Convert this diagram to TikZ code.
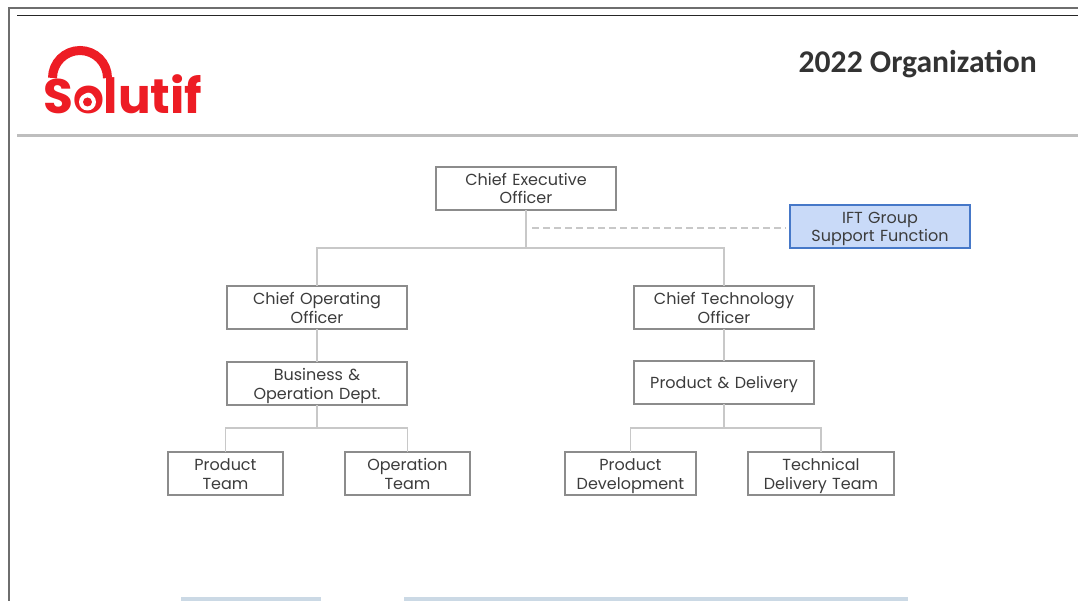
\documentclass[tikz,border=0pt]{standalone}
\usepackage{fontspec}
\setmainfont{Poppins}
\newfontfamily\titlefont{Carlito}
\usetikzlibrary{positioning}
\definecolor{boxgray}{RGB}{140,140,140}
\definecolor{linkgray}{RGB}{200,200,200}
\definecolor{framegray}{RGB}{110,110,110}
\definecolor{rulegray}{RGB}{190,190,190}
\definecolor{textgray}{RGB}{60,60,60}
\definecolor{supportblue}{RGB}{201,218,248}
\definecolor{supportedge}{RGB}{70,120,200}
\definecolor{stripblue}{RGB}{203,217,229}
\definecolor{logored}{RGB}{237,28,36}
\tikzset{
	orgbox/.style={draw=boxgray, line width=1.2pt, fill=white, text=textgray, inner sep=0pt, outer sep=0pt, align=center, text width=#1, minimum height=43pt, font=\fontsize{16}{18.6}\selectfont, execute at begin node={\rule{0pt}{18pt}}, execute at end node={\rule[-5.6pt]{0pt}{5.6pt}}},
	orgbox/.default=180pt,
	link/.style={draw=linkgray, line width=1.6pt},
}

\begin{document}
\begin{tikzpicture}[x=1pt, y=-1pt]
		\useasboundingbox (0,0) rectangle (1078,601);
		% page frame and header
		\draw[framegray, line width=1.6pt] (9,601) -- (9,8) -- (1078,8);
		\draw[black!85, line width=1pt] (17,16) -- (1078,16);
		\draw[rulegray, line width=3pt] (17,135.5) -- (1078,135.5);
		\fill[stripblue] (181,597) rectangle (321,601);
		\fill[stripblue] (404,597) rectangle (908,601);
		\node[text=black!80, font=\titlefont\fontsize{31.6}{34}\selectfont\bfseries, anchor=east, inner sep=0pt] (title) at (1037,64) {2022 Organization};
		% logo
		\draw[logored, line width=9pt] (52.5,78) arc[start angle=180, end angle=360, radius=27.5];
		\node[text=logored, font=\fontsize{48.5}{48}\selectfont\bfseries, anchor=base west, inner sep=0pt] (logo) at (43,114) {Solutif};
		\fill[white] (87.5,102) circle[radius=8.5];
		\fill[logored] (87.5,102) circle[radius=4.5];
		% boxes
		\node[orgbox] (ceo) at (526,188.5) {Chief Executive\\Officer};
		\node[orgbox, fill=supportblue, draw=supportedge] (ift) at (880,226.5) {IFT Group\\Support Function};
		\node[orgbox] (coo) at (317,307.5) {Chief Operating\\Officer};
		\node[orgbox] (cto) at (724,307.5) {Chief Technology\\Officer};
		\node[orgbox, below=33pt of coo] (bizdept) {Business \&\\Operation Dept.};
		\node[orgbox, below=32pt of cto] (delivery) {Product \& Delivery};
		\node[orgbox=115pt] (prodteam) at (225.5,473.5) {Product\\Team};
		\node[orgbox=125pt, right=62pt of prodteam] (opteam) {Operation\\Team};
		\node[orgbox=131pt] (proddev) at (630.5,473.5) {Product\\Development};
		\node[orgbox=146pt, right=52pt of proddev] (techteam) {Technical\\Delivery Team};
		% connectors
		\coordinate (ceoJ) at (526,248);
		\coordinate (bizJ) at (317,428);
		\coordinate (delJ) at (724,428);
		\coordinate (iftL) at (532,228);
		\draw[link] (ceo.south) -- (ceoJ);
		\draw[link] (coo.north) |- (ceoJ) -| (cto.north);
		\draw[link] (coo.south) -- (bizdept.north);
		\draw[link] (cto.south) -- (delivery.north);
		\draw[link] (bizdept.south) -- (bizJ);
		\draw[link] (prodteam.north) |- (bizJ) -| (opteam.north);
		\draw[link] (delivery.south) -- (delJ);
		\draw[link] (proddev.north) |- (delJ) -| (techteam.north);
		\draw[link, line width=1.2pt, dash pattern=on 7pt off 4pt, shorten >=4pt] (iftL) -- (ift.west |- iftL);
\end{tikzpicture}
\end{document}
